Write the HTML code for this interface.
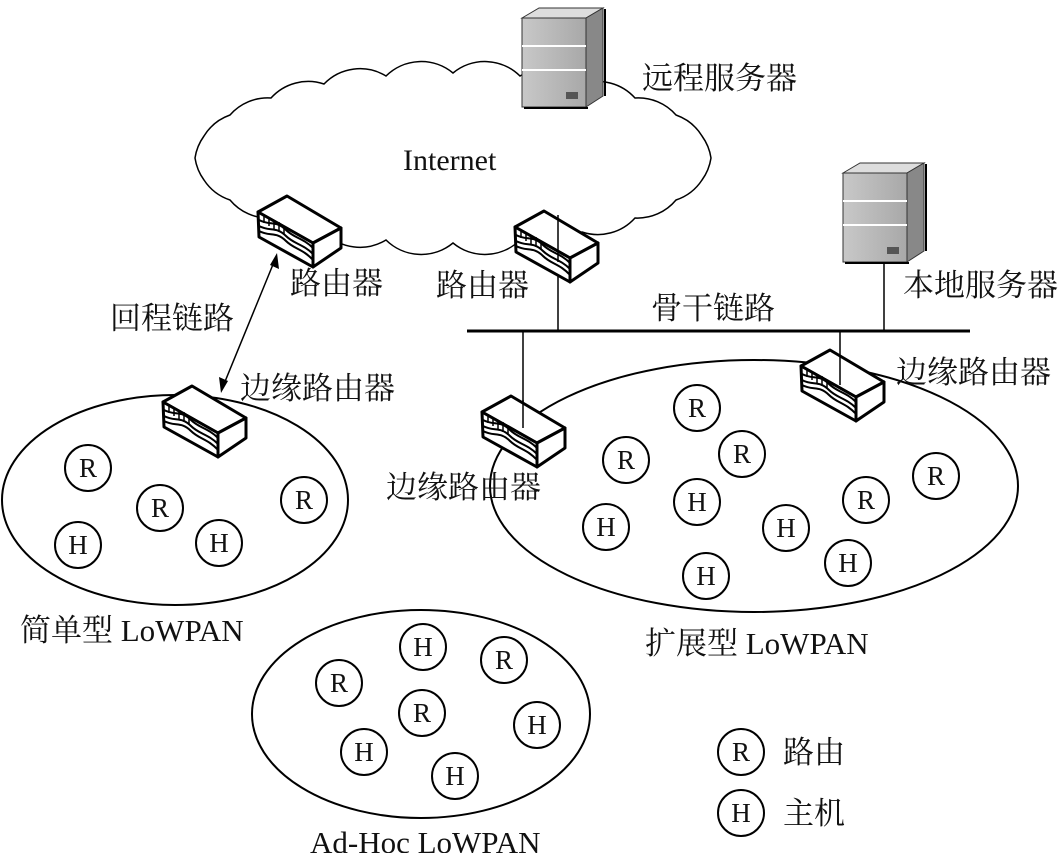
<!DOCTYPE html>
<html><head><meta charset="utf-8"><style>
html,body{margin:0;padding:0;background:#fff}
svg{display:block}
.t{font-family:"Liberation Serif","Noto Serif CJK SC",serif;font-size:31px;fill:#111}
.c{font-family:"Liberation Serif",serif;font-size:27px;fill:#111}
</style></head><body>
<svg width="1061" height="853" viewBox="0 0 1061 853" xmlns="http://www.w3.org/2000/svg">
<defs>
<linearGradient id="g" x1="0" x2="1" y1="0" y2="0"><stop offset="0" stop-color="#c8c8c8"/><stop offset="1" stop-color="#a8a8a8"/></linearGradient>
<g id="rt" stroke="#000" stroke-width="3" stroke-linejoin="round" fill="#fff">
<polygon points="0,0 29,-16 83,16 55,31"/>
<polygon points="55,31 83,16 83,36 55,55"/>
<polygon points="0,0 55,31 55,55 1,25"/>
<path d="M1,8 C12,14 18,8 28,18 C36,26 45,26 55,36" fill="none" stroke-width="2"/>
<path d="M1,14 C12,20 18,14 28,24 C36,32 45,32 55,42" fill="none" stroke-width="2"/>
<path d="M1,19 C12,25 18,19 28,29 C36,37 45,37 55,48" fill="none" stroke-width="2"/>
<path d="M6,3 v8 M11,5 v9 M16,8 v9 M21,10 v10 M26,14 v9" stroke-width="1.5"/>
</g>
<g id="sv">
<polygon points="0,10 17,0 81,0 64,10" fill="#ddd" stroke="#333" stroke-width="1"/>
<polygon points="64,10 81,0 81,88 64,99" fill="#888" stroke="#333" stroke-width="1"/>
<rect x="0" y="10" width="64" height="89" fill="url(#g)" stroke="#333" stroke-width="1"/>
<line x1="0" y1="38" x2="64" y2="38" stroke="#fff" stroke-width="2"/>
<line x1="0" y1="62" x2="64" y2="62" stroke="#fff" stroke-width="2"/>
<rect x="44" y="84" width="12" height="7" fill="#555"/>
<line x1="2" y1="100" x2="66" y2="100" stroke="#000" stroke-width="2"/>
<line x1="83" y1="1" x2="83" y2="88" stroke="#000" stroke-width="2"/>
</g>
</defs>

<!-- cloud -->
<path fill="#fff" stroke="#000" stroke-width="1.5" d="M711,158 A50,50 0 0 1 702,180 A50,50 0 0 1 676,200 A50,50 0 0 1 635,218 A50,50 0 0 1 582,232 A50,50 0 0 1 520,240 A50,50 0 0 1 453,243 A50,50 0 0 1 386,240 A50,50 0 0 1 324,232 A50,50 0 0 1 271,218 A50,50 0 0 1 230,200 A50,50 0 0 1 204,180 A50,50 0 0 1 195,158 A50,50 0 0 1 204,136 A50,50 0 0 1 230,115 A50,50 0 0 1 271,98 A50,50 0 0 1 324,84 A50,50 0 0 1 386,76 A50,50 0 0 1 453,73 A50,50 0 0 1 520,76 A50,50 0 0 1 582,84 A50,50 0 0 1 635,98 A50,50 0 0 1 676,115 A50,50 0 0 1 702,136 A50,50 0 0 1 711,158 Z"/>
<text x="403" y="170" class="c" style="font-size:30px">Internet</text>

<use href="#sv" x="522" y="8"/>
<use href="#sv" x="843" y="163"/>
<text x="642" y="89" class="t">远程服务器</text>
<text x="903" y="296" class="t">本地服务器</text>

<ellipse cx="175" cy="500" rx="173" ry="105" fill="none" stroke="#000" stroke-width="2"/>
<ellipse cx="754" cy="486" rx="264" ry="126" fill="none" stroke="#000" stroke-width="2"/>
<ellipse cx="421" cy="714" rx="169" ry="104" fill="none" stroke="#000" stroke-width="2"/>

<line x1="467" y1="331" x2="970" y2="331" stroke="#000" stroke-width="3"/>
<line x1="558" y1="250" x2="558" y2="331" stroke="#000" stroke-width="1.5"/>
<line x1="884" y1="262" x2="884" y2="331" stroke="#000" stroke-width="1.5"/>
<line x1="523" y1="331" x2="523" y2="430" stroke="#000" stroke-width="1.5"/>
<line x1="840" y1="331" x2="840" y2="385" stroke="#000" stroke-width="1.5"/>
<line x1="274" y1="262" x2="224" y2="384" stroke="#000" stroke-width="1.5"/>
<polygon points="277,253 279,269 270,265" fill="#000"/>
<polygon points="221,393 219,377 228,381" fill="#000"/>

<use href="#rt" x="258" y="212"/>
<use href="#rt" x="515" y="227"/>
<use href="#rt" x="163" y="402"/>
<use href="#rt" x="482" y="412"/>
<use href="#rt" x="801" y="366"/>
<line x1="523" y1="400" x2="523" y2="428" stroke="#000" stroke-width="1.5"/>
<line x1="840" y1="355" x2="840" y2="385" stroke="#000" stroke-width="1.5"/>
<line x1="558" y1="215" x2="558" y2="262" stroke="#000" stroke-width="1.5"/>

<text x="290" y="294" class="t">路由器</text>
<text x="436" y="296" class="t">路由器</text>
<text x="110" y="329" class="t">回程链路</text>
<text x="651" y="319" class="t">骨干链路</text>
<text x="240" y="399" class="t">边缘路由器</text>
<text x="896" y="383" class="t">边缘路由器</text>
<text x="386" y="498" class="t">边缘路由器</text>
<text x="20" y="641" class="t">简单型 LoWPAN</text>
<text x="645" y="654" class="t">扩展型 LoWPAN</text>
<text x="310" y="853" class="t">Ad-Hoc LoWPAN</text>

<g fill="#fff" stroke="#000" stroke-width="2">
<circle cx="88" cy="468" r="23"/><circle cx="160" cy="508" r="23"/><circle cx="304" cy="500" r="23"/><circle cx="78" cy="545" r="23"/><circle cx="219" cy="543" r="23"/>
<circle cx="697" cy="408" r="23"/><circle cx="742" cy="454" r="23"/><circle cx="626" cy="460" r="23"/><circle cx="936" cy="476" r="23"/><circle cx="866" cy="500" r="23"/>
<circle cx="697" cy="502" r="23"/><circle cx="606" cy="527" r="23"/><circle cx="786" cy="528" r="23"/><circle cx="848" cy="563" r="23"/><circle cx="706" cy="576" r="23"/>
<circle cx="423" cy="647" r="23"/><circle cx="504" cy="660" r="23"/><circle cx="339" cy="683" r="23"/><circle cx="422" cy="713" r="23"/><circle cx="537" cy="725" r="23"/><circle cx="364" cy="752" r="23"/><circle cx="455" cy="776" r="23"/>
<circle cx="741" cy="752" r="23"/><circle cx="741" cy="813" r="23"/>
</g>
<g class="c" text-anchor="middle">
<text x="88" y="477">R</text><text x="160" y="517">R</text><text x="304" y="509">R</text><text x="78" y="554">H</text><text x="219" y="552">H</text>
<text x="697" y="417">R</text><text x="742" y="463">R</text><text x="626" y="469">R</text><text x="936" y="485">R</text><text x="866" y="509">R</text>
<text x="697" y="511">H</text><text x="606" y="536">H</text><text x="786" y="537">H</text><text x="848" y="572">H</text><text x="706" y="585">H</text>
<text x="423" y="656">H</text><text x="504" y="669">R</text><text x="339" y="692">R</text><text x="422" y="722">R</text><text x="537" y="734">H</text><text x="364" y="761">H</text><text x="455" y="785">H</text>
<text x="741" y="761">R</text><text x="741" y="822">H</text>
</g>
<text x="783" y="763" class="t">路由</text>
<text x="783" y="824" class="t">主机</text>
</svg>
</body></html>
